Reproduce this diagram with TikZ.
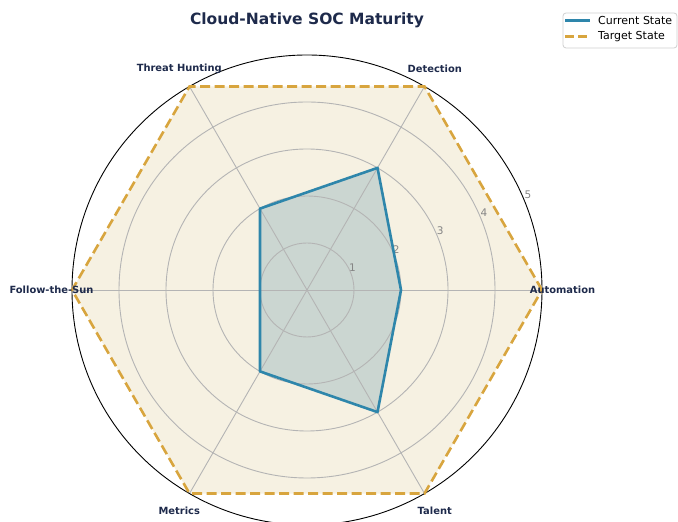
\documentclass[tikz,border=0pt]{standalone}
\usepackage{fontspec}
\setmainfont{DejaVu Sans}
\usetikzlibrary{positioning, calc}
\definecolor{navy}{HTML}{1E2A4B}
\definecolor{current}{HTML}{2E86AB}
\definecolor{target}{HTML}{D8A53E}
\definecolor{targetFill}{HTML}{F6F1E2}
\definecolor{currentFill}{HTML}{CBD6D1}
\definecolor{gridGray}{HTML}{B4B4B4}
\definecolor{tickGray}{HTML}{858585}
\definecolor{frameGray}{HTML}{D0D0D0}

\begin{document}
\begin{tikzpicture}[
  x=1pt, y=1pt,
  ring/.style={draw=gridGray, line width=0.9pt},
  spoke/.style={draw=gridGray, line width=0.9pt},
  axislabel/.style={font=\fontsize{9.9}{12}\selectfont\bfseries, text=navy, inner sep=0pt},
  ticklabel/.style={font=\fontsize{10.5}{12}\selectfont, text=tickGray, inner sep=0pt},
  currentline/.style={draw=current, line width=2.6pt, line join=round},
  targetline/.style={draw=target, line width=2.6pt, dash pattern=on 10pt off 4.5pt},
  legendbox/.style={draw=frameGray, fill=white, rounded corners=3pt, line width=0.8pt,
               minimum width=114pt, minimum height=35pt},
  legendtext/.style={font=\fontsize{11}{13}\selectfont, anchor=west, inner sep=0pt},
]
\useasboundingbox (0,0) rectangle (678,522);

\coordinate (c) at (307,232);

% axis ends and labels
\foreach \lab/\ang [count=\i] in {Automation/0, Detection/60, Threat Hunting/120,
                                   Follow-the-Sun/180, Metrics/240, Talent/300}{
  \coordinate (ax\i) at ($(c)+(\ang:235)$);
  \coordinate (tgt\i) at ($(c)+(\ang:235)$);
}
\foreach \v [count=\i] in {2,3,2,1,2,3}
  \coordinate (cur\i) at ($(c)+({(\i-1)*60}:\v*47)$);

% filled areas
\fill[targetFill] (tgt1) -- (tgt2) -- (tgt3) -- (tgt4) -- (tgt5) -- (tgt6) -- cycle;
\fill[currentFill] (cur1) -- (cur2) -- (cur3) -- (cur4) -- (cur5) -- (cur6) -- cycle;

% grid
\foreach \r in {1,...,4}
  \draw[ring] (c) circle (\r*47);
\foreach \i in {1,...,6}
  \draw[spoke] (c) -- (ax\i);
\draw[black, line width=0.9pt] (c) circle (235);

\foreach \r in {1,...,5}
  \node[ticklabel] (tick\r) at ($(c)+(22.5:\r*47.5)+(1.5,4.5)$) {\r};

% the two states
\draw[targetline] (tgt1) -- (tgt2) -- (tgt3) -- (tgt4) -- (tgt5) -- (tgt6) -- cycle;
\draw[currentline] (cur1) -- (cur2) -- (cur3) -- (cur4) -- (cur5) -- (cur6) -- cycle;

\foreach \lab/\ang [count=\i] in {Automation/0, Detection/60, Threat Hunting/120,
                                   Follow-the-Sun/180, Metrics/240, Talent/300}
  \node[axislabel] (lab\i) at ($(c)+(\ang:255.5)$) {\lab};

\node[font=\fontsize{15.5}{18}\selectfont\bfseries, text=navy] (title) at (307,502)
  {Cloud-Native SOC Maturity};

% legend
\node[legendbox] (legend) at (620,491.5) {};
\coordinate (curA) at (565,501.3);
\coordinate (curB) at (590,501.3);
\coordinate (tgtA) at (565,485.3);
\coordinate (tgtB) at (590,485.3);
\draw[currentline] (curA) -- (curB);
\draw[targetline, dash pattern=on 9pt off 4pt] (tgtA) -- (tgtB);
\node[legendtext, right=8pt of curB] (curtext) {Current State};
\node[legendtext, right=8pt of tgtB] (tgttext) {Target State};

\end{tikzpicture}
\end{document}
